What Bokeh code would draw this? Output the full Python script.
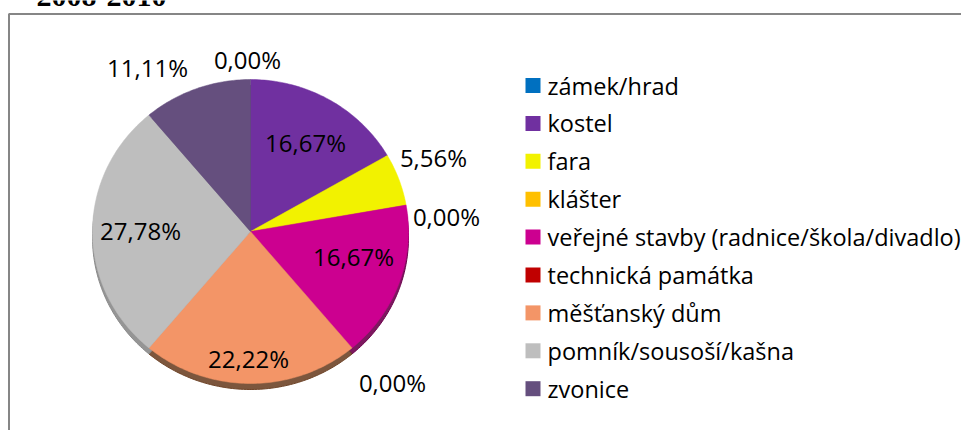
import numpy as np
from bokeh.plotting import figure
from bokeh.models import Range1d
from bokeh.core.properties import value
from bokeh.embed import file_html
from bokeh.resources import INLINE

# ---- data ----
title = "2008-2010"
categories = ["zámek/hrad", "kostel", "fara", "klášter",
              "veřejné stavby (radnice/škola/divadlo)", "technická památka",
              "měšťanský dům", "pomník/sousoší/kašna", "zvonice"]
counts = [0, 3, 1, 0, 3, 0, 4, 5, 2]
colors = ["#0070C0", "#7030A0", "#F2F200", "#FFC000", "#CC0090",
          "#C00000", "#F39567", "#BEBEBE", "#654F7E"]
shadow_colors = ["#003a66", "#3c1a58", "#8a8a00", "#8a6800", "#6e004e",
                 "#600000", "#6e4428", "#8a8a8a", "#3a2e4a"]
# label anchor positions (layout), page pixels
label_x = [247, 305, 433, 446, 353, 392, 248, 140, 147]
label_y = [59, 142, 157, 216, 256, 382, 358, 230, 67]

W, H = 961, 430
FONT = "Open Sans"

p = figure(width=W, height=H, output_backend="svg", toolbar_location=None,
           x_range=Range1d(0, W), y_range=Range1d(H, 0),
           min_border=0, outline_line_color=None)
p.axis.visible = False
p.grid.visible = False
p.background_fill_color = "white"
p.border_fill_color = "white"

# pie geometry (layout)
cx, cy, rx, ry = 250, 231, 158, 152
shadow_dy = 6

total = float(sum(counts))
fracs = [c / total for c in counts]
starts = np.cumsum([0] + fracs[:-1]) * 2 * np.pi
ends = starts + np.array(fracs) * 2 * np.pi

def wedge_poly(a0, a1, dy=0):
    t = np.linspace(a0, a1, max(3, int((a1 - a0) / (2 * np.pi) * 360)))
    xs = [cx] + list(cx + rx * np.sin(t)) + [cx]
    ys = [cy + dy] + list(cy + dy - ry * np.cos(t)) + [cy + dy]
    return xs, ys

sx, sy, sc = [], [], []
px, py, pc = [], [], []
for i, f in enumerate(fracs):
    if f <= 0:
        continue
    xs, ys = wedge_poly(starts[i], ends[i], shadow_dy)
    sx.append(xs); sy.append(ys); sc.append(shadow_colors[i])
    xs, ys = wedge_poly(starts[i], ends[i])
    px.append(xs); py.append(ys); pc.append(colors[i])

p.patches(sx, sy, fill_color=sc, line_color=sc, line_width=1, fill_alpha=0.9)
p.patches(px, py, fill_color=pc, line_color=pc, line_width=0.5)

# percentage labels
labels = [f"{f*100:.2f}%".replace(".", ",") for f in fracs]
p.text(x=label_x, y=label_y, text=labels, text_font=value(FONT),
       text_font_size="24px", text_color="black",
       text_align="center", text_baseline="middle")

# legend
leg_x0 = 525
leg_y0 = 85
leg_dy = 37.9
ly = [leg_y0 + i * leg_dy for i in range(len(categories))]
p.rect(x=[leg_x0 + 7.5] * len(categories), y=ly, width=15, height=15,
       fill_color=colors, line_color=None)
p.text(x=[leg_x0 + 22] * len(categories), y=ly, text=categories,
       text_font=value(FONT), text_font_size="23.5px", text_color="black",
       text_align="left", text_baseline="middle")

# title above the chart box (cut by the top edge, as in the source)
p.text(x=[36], y=[5], text=[title], text_font=value("Liberation Serif"),
       text_font_size="30px", text_font_style="bold", text_color="black",
       text_align="left", text_baseline="bottom")

# chart border (top and left visible)
p.line(x=[8.5, 8.5, W], y=[H, 13.5, 13.5], line_color="#868686", line_width=2)

open("out.html", "w").write(file_html(p, INLINE))
